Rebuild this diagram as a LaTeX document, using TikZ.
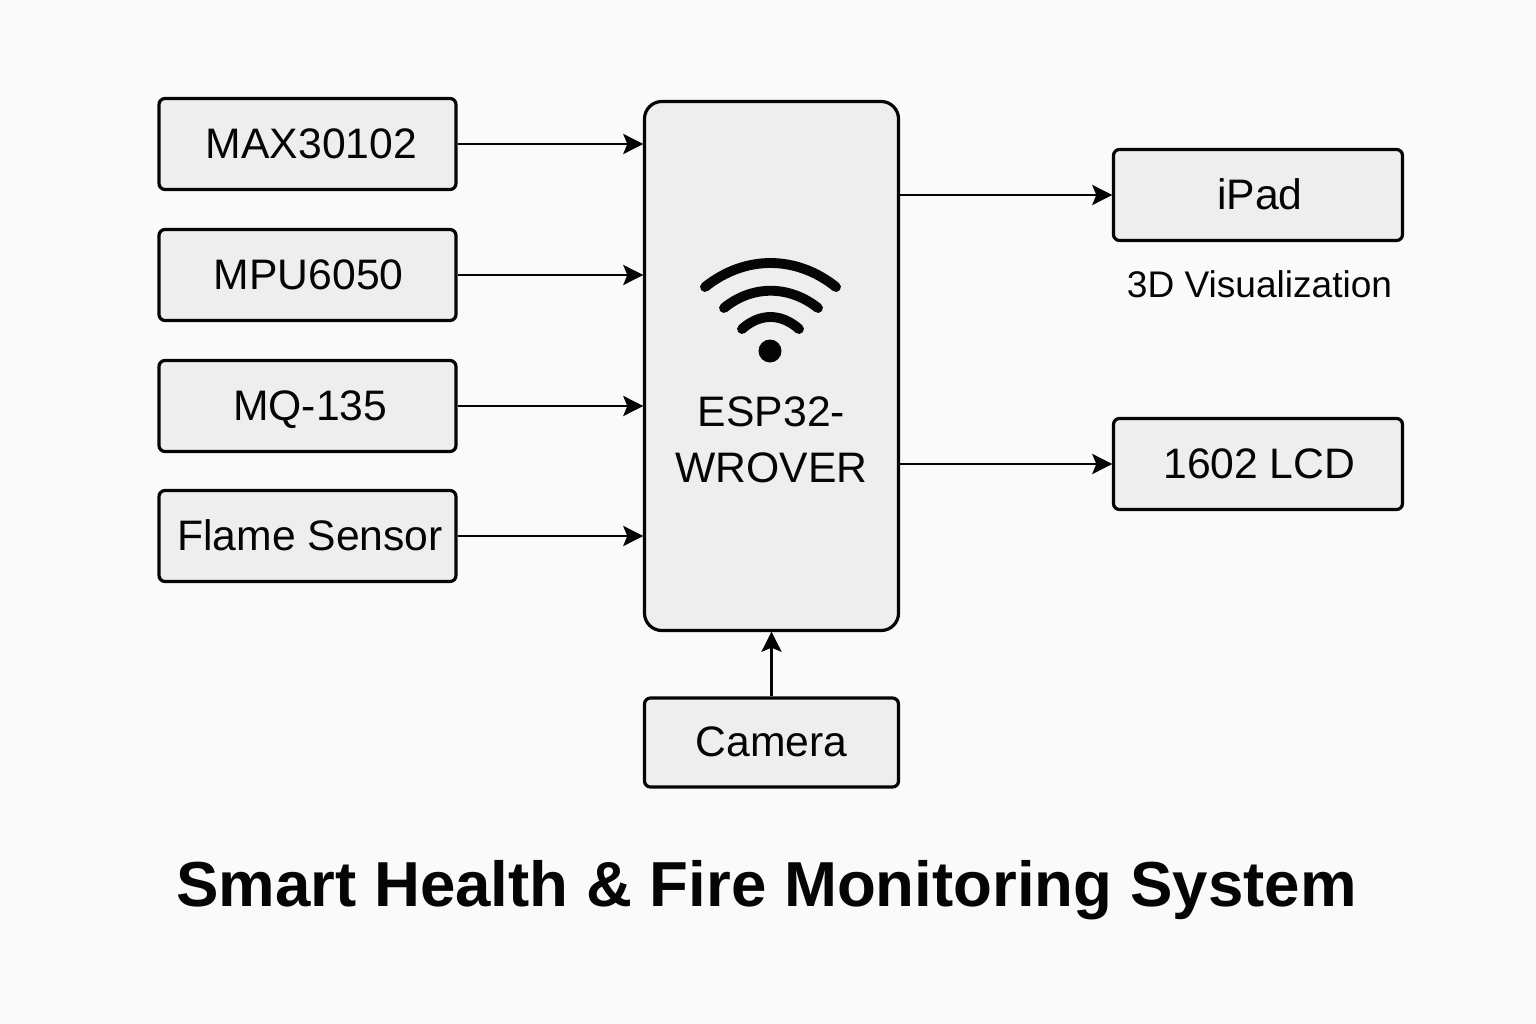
\documentclass[tikz,border=0pt]{standalone}
\usepackage{fontspec}
\setmainfont{Liberation Sans}
\usetikzlibrary{arrows.meta}
\definecolor{pagebg}{HTML}{FAFAFA}
\definecolor{boxfill}{HTML}{EEEEEE}
\definecolor{ink}{HTML}{050505}
\tikzset{
  basebox/.style={draw=ink,fill=boxfill,line width=2.4pt,inner sep=0pt,text=ink,font=\fontsize{32}{36}\selectfont,align=center,text height=23pt,text depth=1.5pt},
  sensorbox/.style={basebox,rounded corners=4.5pt,minimum width={297*0.75pt},minimum height={91*0.75pt}},
  outbox/.style={basebox,rounded corners=4.5pt,minimum width={289*0.75pt},minimum height={91*0.75pt}},
  link/.style={draw=ink,line width=2.2pt,shorten >=-0.3pt,-{Stealth[length=15pt,width=15pt,inset=3pt]}},
  wave/.style={draw=ink,line width=7.4pt,line cap=round},
}
\begin{document}
\begin{tikzpicture}[x=0.75pt,y=-0.75pt]
\useasboundingbox (0,0) rectangle (1536,1024);
\fill[pagebg] (0,0) rectangle (1536,1024);

\node[sensorbox] (max) at (307.5,144) {\hspace{6pt}MAX30102};
\node[sensorbox] (mpu) at (307.5,275) {\hspace{2pt}MPU6050};
\node[sensorbox] (mq) at (307.5,406) {\hspace{4pt}MQ-135};
\node[sensorbox] (flame) at (307.5,536) {\hspace{4pt}Flame Sensor};

\node[basebox,rounded corners=13pt,text height=,text depth=,minimum width={254*0.75pt},minimum height={529*0.75pt}] (esp) at (771.5,366) {};
\node[text=ink,font=\fontsize{32}{42}\selectfont,align=center] (esptext) at (771.5,439.5) {ESP32-\\WROVER};

\node[outbox] (ipad) at (1258,195) {\hspace{3pt}iPad};
\node[outbox] (lcd) at (1258,464) {\hspace{2pt}1602 LCD};
\node[text=ink,font=\fontsize{27.8}{30}\selectfont] (viz) at (1259.5,284) {3D Visualization};
\node[basebox,rounded corners=4.5pt,minimum width={254*0.75pt},minimum height={89*0.75pt}] (cam) at (771.5,742.5) {Camera};

\node[text=ink,font=\fontsize{47.7}{52}\selectfont\bfseries] (title) at (766.5,890) {Smart Health \& Fire Monitoring System};

\draw[link] (max.east) -- (max.east -| esp.west);
\draw[link] (mpu.east) -- (mpu.east -| esp.west);
\draw[link] (mq.east) -- (mq.east -| esp.west);
\draw[link] (flame.east) -- (flame.east -| esp.west);
\draw[link] (ipad.west -| esp.east) -- (ipad.west);
\draw[link] (lcd.west -| esp.east) -- (lcd.west);
\draw[link] (cam.north) -- (cam.north |- esp.south);

\draw[wave] (705,287) .. controls (745,255) and (796,255) .. (836,287);
\draw[wave] (724,308) .. controls (752,285) and (789,285) .. (818,308);
\draw[wave] (742,329) .. controls (760,313) and (781,313) .. (799,329);
\fill[ink] (770,351) circle[radius=11.5];
\end{tikzpicture}
\end{document}
